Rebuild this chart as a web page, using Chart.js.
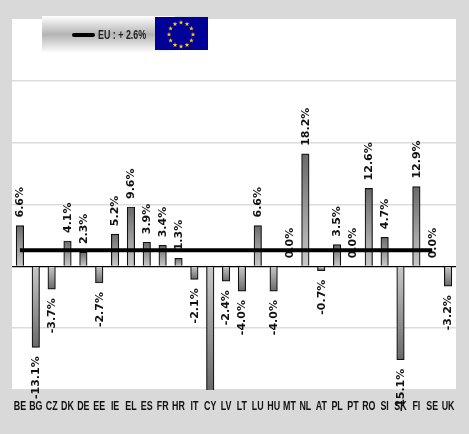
<!DOCTYPE html>
<html>
<head>
<meta charset="utf-8">
<style>
  html, body { margin: 0; padding: 0; background: #d9d9d9; }
  #wrap { width: 469px; height: 434px; }
</style>
<script src="https://cdn.jsdelivr.net/npm/chart.js@4"></script>
</head>
<body>
<div id="wrap"><canvas id="myChart" width="469" height="434"></canvas></div>
<script>
const countries = ['BE','BG','CZ','DK','DE','EE','IE','EL','ES','FR','HR','IT','CY','LV','LT','LU','HU','MT','NL','AT','PL','PT','RO','SI','SK','FI','SE','UK'];
const change = [6.6,-13.1,-3.7,4.1,2.3,-2.7,5.2,9.6,3.9,3.4,1.3,-2.1,-25,-2.4,-4.0,6.6,-4.0,0,18.2,-0.7,3.5,0,12.6,4.7,-15.1,12.9,0,-3.2];
const euLine = [2.6,2.6,2.6,2.6,2.6,2.6,2.6,2.6,2.6,2.6,2.6,2.6,2.6,2.6,2.6,2.6,2.6,2.6,2.6,2.6,2.6,2.6,2.6,2.6,2.6,2.6,2.6,null];
const legendText = 'EU : + 2.6%';

// bars go from light at the axis to dark at the far end
function barFill(context) {
  const chart = context.chart;
  if (!chart.chartArea || context.raw === undefined) return '#888';
  const y = chart.scales.y;
  const y0 = y.getPixelForValue(0);
  const y1 = y.getPixelForValue(Math.max(context.raw, y.min));
  if (y0 === y1) return '#888';
  const g = chart.ctx.createLinearGradient(0, y0, 0, y1);
  g.addColorStop(0, '#c8c8c8');
  g.addColorStop(1, '#6a6a6a');
  return g;
}

function star(ctx, cx, cy, r) {
  ctx.beginPath();
  for (let i = 0; i < 10; i++) {
    const rr = i % 2 ? r * 0.4 : r;
    const a = -Math.PI / 2 + i * Math.PI / 5;
    ctx.lineTo(cx + rr * Math.cos(a), cy + rr * Math.sin(a));
  }
  ctx.closePath();
  ctx.fill();
}

// no narrow font installed, so squeeze Liberation Sans sideways
function narrowText(ctx, text, x, y, align) {
  ctx.save();
  ctx.translate(x, y);
  ctx.scale(0.74, 1);
  ctx.font = 'bold 12px "Liberation Sans"';
  ctx.textAlign = align;
  ctx.textBaseline = 'middle';
  ctx.fillText(text, 0, 0);
  ctx.restore();
}

const plotBack = {
  id: 'plotBack',
  beforeDraw(chart) {
    const a = chart.chartArea;
    chart.ctx.fillStyle = '#ffffff';
    chart.ctx.fillRect(a.left, a.top, a.width, a.height);
  }
};

const valueLabels = {
  id: 'valueLabels',
  afterDatasetsDraw(chart) {
    const ctx = chart.ctx;
    const x = chart.scales.x;
    const y = chart.scales.y;
    ctx.save();
    ctx.fillStyle = '#111';
    countries.forEach((c, i) => narrowText(ctx, c, x.getPixelForValue(i), 407, 'center'));
    ctx.font = 'bold 11px "DejaVu Sans"';
    ctx.textBaseline = 'middle';
    change.forEach((v, i) => {
      if (v < y.min) return; // CY runs off the chart, no label there
      ctx.save();
      ctx.translate(x.getPixelForValue(i) + 0.5, y.getPixelForValue(v) + (v < 0 ? 9 : -8));
      ctx.rotate(-Math.PI / 2);
      ctx.textAlign = v < 0 ? 'right' : 'left';
      ctx.fillText(v.toFixed(1) + '%', 0, 0);
      ctx.restore();
    });
    ctx.restore();
  }
};

const euBox = {
  id: 'euBox',
  afterDraw(chart) {
    const ctx = chart.ctx;
    ctx.save();
    const g = ctx.createLinearGradient(0, 16, 0, 53);
    g.addColorStop(0, '#ffffff');
    g.addColorStop(0.5, '#b4b4b4');
    g.addColorStop(1, '#ffffff');
    ctx.fillStyle = g;
    ctx.fillRect(42, 16, 133, 37);

    ctx.strokeStyle = '#000';
    ctx.lineWidth = 4;
    ctx.lineCap = 'round';
    ctx.beginPath();
    ctx.moveTo(74, 35);
    ctx.lineTo(93, 35);
    ctx.stroke();

    ctx.fillStyle = '#222';
    narrowText(ctx, legendText, 98, 35.5, 'left');

    ctx.fillStyle = '#000099';
    ctx.fillRect(155, 17, 53, 33);
    ctx.fillStyle = '#ffcc00';
    for (let i = 0; i < 12; i++) {
      const a = i * Math.PI / 6;
      star(ctx, 181 + 12 * Math.sin(a), 34.5 - 12 * Math.cos(a), 2.5);
    }
    ctx.restore();
  }
};

new Chart(document.getElementById('myChart').getContext('2d'), {
  data: {
    labels: countries,
    datasets: [
      {
        type: 'line',
        data: euLine,
        borderColor: '#000',
        borderWidth: 4,
        borderCapStyle: 'butt',
        pointRadius: 0,
        tension: 0,
        order: 1
      },
      {
        type: 'bar',
        data: change,
        backgroundColor: barFill,
        borderColor: '#111',
        borderWidth: 1.2,
        barThickness: 7.5,
        order: 2
      }
    ]
  },
  options: {
    responsive: false,
    animation: false,
    layout: { padding: { left: 12, right: 13, top: 19, bottom: 0 } },
    plugins: { legend: { display: false }, tooltip: { enabled: false } },
    scales: {
      x: {
        grid: { display: false },
        border: { display: false },
        afterFit(scale) { scale.height = 44; },
        ticks: { display: false, autoSkip: false }
      },
      y: {
        min: -20,
        max: 40,
        afterFit(scale) { scale.width = 0; },
        ticks: { display: false, stepSize: 10 },
        border: { display: false },
        grid: {
          drawTicks: false,
          color: c => c.tick.value === 0 ? '#000' : (c.tick.value === 40 ? 'rgba(0,0,0,0)' : '#dcdcdc'),
          lineWidth: c => c.tick.value === 0 ? 1.2 : 1.4
        }
      }
    }
  },
  plugins: [plotBack, valueLabels, euBox]
});
</script>
</body>
</html>
